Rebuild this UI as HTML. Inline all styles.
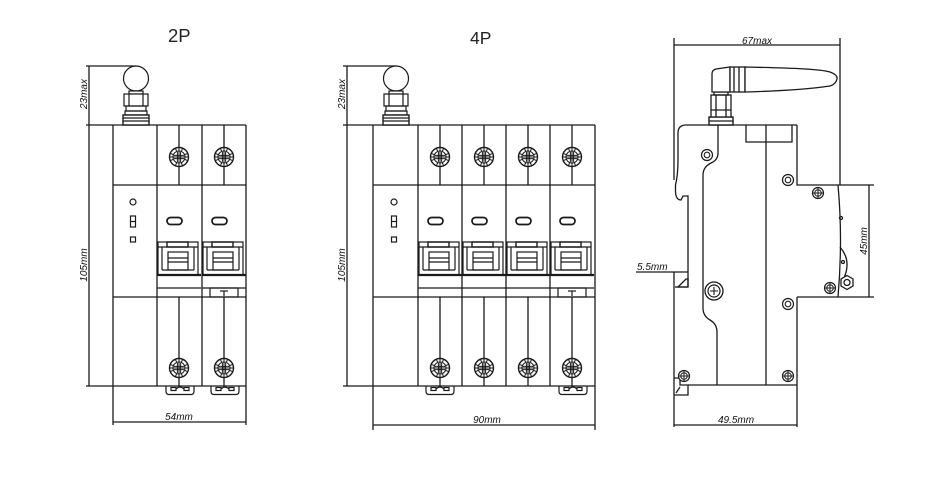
<!DOCTYPE html>
<html><head><meta charset="utf-8"><style>
html,body{margin:0;padding:0;background:#fff;}
svg{display:block;}
text{font-family:"Liberation Sans",sans-serif;fill:#222;}
.d{font-style:italic;font-size:10px;fill:#111;}
</style></head><body>
<svg width="946" height="490" viewBox="0 0 946 490" xmlns="http://www.w3.org/2000/svg">
<defs>
<g id="scr">
<circle r="9.5" fill="#fff" stroke="#1a1a1a" stroke-width="1.4"/>
<circle r="6" fill="none" stroke="#1a1a1a" stroke-width="1.1"/>
<path d="M5.54 2.3L8.78 3.64M2.3 5.54L3.64 8.78M-2.3 5.54L-3.64 8.78M-5.54 2.3L-8.78 3.64M-5.54 -2.3L-8.78 -3.64M-2.3 -5.54L-3.64 -8.78M2.3 -5.54L3.64 -8.78M5.54 -2.3L8.78 -3.64M-9.5 0H9.5M0 -9.5V9.5M-5 -1.6H5M-5 1.6H5M-1.6 -5V5M1.6 -5V5" stroke="#1a1a1a" stroke-width="1" fill="none"/>
</g>
<g id="lev" fill="none" stroke="#1a1a1a" stroke-width="1.2">
<rect x="1" y="0" width="40" height="33"/>
<rect x="10" y="0" width="21" height="5" stroke-width="1.4"/>
<line x1="1" y1="5" x2="41" y2="5"/>
<line x1="5" y1="5" x2="5" y2="28"/>
<line x1="37" y1="5" x2="37" y2="28"/>
<rect x="11" y="10" width="20" height="18"/>
<line x1="11" y1="16" x2="31" y2="16"/>
<line x1="11" y1="20" x2="31" y2="20"/>
<line x1="5" y1="28" x2="37" y2="28"/>
<line x1="0" y1="33" x2="44" y2="33" stroke-width="2.2"/>
<line x1="0" y1="46" x2="44" y2="46"/>
</g>
<g id="mod" fill="none" stroke="#1a1a1a" stroke-width="1.3">
<line x1="0" y1="125" x2="0" y2="386"/>
<line x1="22" y1="125" x2="22" y2="185"/>
<line x1="22" y1="297" x2="22" y2="386"/>
<use href="#scr" x="22" y="157"/>
<use href="#scr" x="22" y="368"/>
<rect x="10" y="217.5" width="15" height="7" rx="3.5" stroke-width="1.7"/>
<use href="#lev" y="242"/>
</g>
<g id="clip" fill="none" stroke="#1a1a1a" stroke-width="1.2">
<path d="M9 386V391Q9 394.5 12 394.5H34Q37 394.5 37 391V386"/>
<rect x="14" y="387.5" width="5" height="3"/>
<rect x="27" y="387.5" width="5" height="3"/>
<path d="M19 389Q23 385 27 389"/>
</g>
<g id="term" fill="none" stroke="#1a1a1a" stroke-width="1.2">
<rect x="8" y="288" width="28" height="9"/>
<line x1="18" y1="291" x2="26" y2="291"/>
<line x1="22" y1="291" x2="22" y2="296"/>
</g>
<g id="ant" fill="none" stroke="#1a1a1a" stroke-width="1.2">
<circle cx="0" cy="78.5" r="12.5" fill="#fff"/>
<rect x="-7" y="91" width="14" height="3" fill="#fff"/>
<rect x="-12" y="94" width="24" height="12" fill="#fff"/>
<line x1="-7" y1="94" x2="-7" y2="106"/>
<line x1="7" y1="94" x2="7" y2="106"/>
<rect x="-10" y="106" width="20" height="5"/>
<rect x="-11" y="111" width="22" height="4"/>
<rect x="-13" y="115" width="26" height="10" fill="#fff" stroke-width="1.4"/>
<line x1="-13" y1="118" x2="13" y2="118"/>
<line x1="-13" y1="121" x2="13" y2="121"/>
</g>
<g id="panel" fill="none" stroke="#1a1a1a" stroke-width="1.2">
<circle cx="0" cy="202" r="3"/>
<rect x="-2.5" y="216" width="5" height="11"/>
<line x1="-2.5" y1="221.5" x2="2.5" y2="221.5"/>
<rect x="-2.5" y="237" width="5" height="5"/>
</g>
<g id="xs"><circle r="5.5" fill="#fff" stroke="#1a1a1a" stroke-width="1.2"/><circle r="3.3" fill="none" stroke="#1a1a1a" stroke-width="1"/><path d="M-5 0H5M0 -5V5" stroke="#1a1a1a" stroke-width="1"/></g>
<g id="dc"><circle r="5.5" fill="#fff" stroke="#1a1a1a" stroke-width="1.2"/><circle r="2.8" fill="none" stroke="#1a1a1a" stroke-width="1.1"/></g>
</defs>

<!-- titles -->
<text x="168" y="42" font-size="18.5">2P</text>
<text x="470" y="44" font-size="17.5">4P</text>

<!-- ===== 2P ===== -->
<g fill="none" stroke="#1a1a1a" stroke-width="1.3">
<line x1="86" y1="125" x2="246" y2="125"/>
<line x1="113" y1="185" x2="246" y2="185"/>
<line x1="113" y1="297" x2="246" y2="297"/>
<line x1="86" y1="386" x2="246" y2="386"/>
<line x1="113" y1="125" x2="113" y2="425"/>
<line x1="246" y1="125" x2="246" y2="425"/>
<line x1="89" y1="66" x2="89" y2="386"/>
<line x1="86" y1="66" x2="136" y2="66"/>
<line x1="113" y1="422" x2="246" y2="422"/>
</g>
<use href="#mod" x="157"/>
<use href="#mod" x="202"/>
<use href="#clip" x="157"/>
<use href="#clip" x="202"/>
<use href="#term" x="202"/>
<use href="#panel" x="133"/>
<use href="#ant" x="136"/>
<text class="d" x="88" y="94" text-anchor="middle" font-size="11" transform="rotate(-90 88 94)" dy="-1">23max</text>
<text class="d" x="88" y="265" text-anchor="middle" font-size="12.5" transform="rotate(-90 88 265)" dy="-1">105mm</text>
<text class="d" x="179" y="420" text-anchor="middle">54mm</text>

<!-- ===== 4P ===== -->
<g fill="none" stroke="#1a1a1a" stroke-width="1.3">
<line x1="343" y1="125" x2="595" y2="125"/>
<line x1="373" y1="185" x2="595" y2="185"/>
<line x1="373" y1="297" x2="595" y2="297"/>
<line x1="343" y1="386" x2="595" y2="386"/>
<line x1="373" y1="125" x2="373" y2="430"/>
<line x1="595" y1="125" x2="595" y2="430"/>
<line x1="347" y1="66" x2="347" y2="386"/>
<line x1="343" y1="66" x2="396" y2="66"/>
<line x1="373" y1="425" x2="595" y2="425"/>
</g>
<use href="#mod" x="418"/>
<use href="#mod" x="462"/>
<use href="#mod" x="506"/>
<use href="#mod" x="550"/>
<use href="#clip" x="417"/>
<use href="#clip" x="550"/>
<use href="#term" x="550"/>
<use href="#panel" x="394"/>
<use href="#ant" x="396"/>
<text class="d" x="346" y="94" text-anchor="middle" font-size="11" transform="rotate(-90 346 94)" dy="-1">23max</text>
<text class="d" x="346" y="265" text-anchor="middle" font-size="12.5" transform="rotate(-90 346 265)" dy="-1">105mm</text>
<text class="d" x="487" y="423" text-anchor="middle">90mm</text>

<!-- ===== Side view ===== -->
<g fill="none" stroke="#1a1a1a" stroke-width="1.3">
<line x1="674" y1="45" x2="840" y2="45"/>
<line x1="674" y1="38" x2="674" y2="180"/>
<line x1="840" y1="38" x2="840" y2="185"/>
<path d="M797 125L686 125Q678 125 678 133L678 160Q678 175 675.5 185L675.5 192Q676 200 681 200L683 196L688 196L688 287"/>
<line x1="636" y1="272" x2="688" y2="272"/>
<line x1="674" y1="272" x2="674" y2="427"/>
<path d="M678 287L686 279L688 279L688 287Z"/>
<line x1="675" y1="287" x2="688" y2="287"/>
<path d="M797 125V185H874"/>
<path d="M838 185Q843 240 838 297"/>
<line x1="797" y1="297" x2="874" y2="297"/>
<line x1="797" y1="297" x2="797" y2="427"/>
<line x1="688" y1="385" x2="797" y2="385"/>
<path d="M674 378L680 378L680 385L688 385L688 395L674 395"/>
<path d="M676 393L680 387"/>
<path d="M718 125L718 153Q718 160 711 163Q703 167 703 175L703 308Q703 316 710 320Q717 324 717 332L717 385"/>
<line x1="766" y1="125" x2="766" y2="385"/>
<path d="M746 125L746 142L792 142L792 125"/>
<line x1="869" y1="185" x2="869" y2="297"/>
<line x1="674" y1="425" x2="797" y2="425"/>
<path d="M840 247Q853 262 842 282"/>
<circle cx="841" cy="218" r="1.5"/>
<circle cx="843" cy="262" r="1.5"/>
<path d="M847 275.5L853 279L853 286L847 289.5L841 286L841 279Z" fill="#fff"/>
<circle cx="847" cy="282.5" r="3"/>
<rect x="709" y="117" width="24" height="8" fill="#fff" stroke-width="1.4"/>
<line x1="709" y1="121" x2="733" y2="121"/>
<rect x="711" y="95" width="20" height="22" fill="#fff"/>
<line x1="716" y1="95" x2="716" y2="117"/>
<line x1="726" y1="95" x2="726" y2="117"/>
<line x1="711" y1="110" x2="731" y2="110"/>
<rect x="714" y="92" width="14" height="3"/>
<path d="M712 92L712 74Q712 70 716 69L730 67L730 92Z" fill="#fff"/>
<rect x="730" y="67" width="15" height="25" fill="#fff"/>
<line x1="734" y1="67" x2="734" y2="92"/>
<line x1="739" y1="67" x2="739" y2="92"/>
<path d="M745 67C790 68 820 69 830 72Q838 75 837 79Q836 84 830 86C810 89 780 91 745 92Z" fill="#fff"/>
</g>
<use href="#dc" x="707" y="155"/>
<use href="#dc" x="788" y="180"/>
<use href="#dc" x="788" y="304"/>
<g transform="translate(714 291)"><circle r="9" fill="#fff" stroke="#1a1a1a" stroke-width="1.3"/><circle r="6" fill="none" stroke="#1a1a1a" stroke-width="1.2"/><path d="M-4 0H4M0 -4V4" stroke="#1a1a1a" stroke-width="1.1"/></g>
<use href="#xs" x="818" y="193"/>
<use href="#xs" x="830" y="288"/>
<use href="#xs" x="684" y="376"/>
<use href="#xs" x="788" y="376"/>
<text class="d" x="757" y="44" text-anchor="middle">67max</text>
<text class="d" x="637" y="270">5.5mm</text>
<text class="d" x="736" y="423" text-anchor="middle" font-size="10.5">49.5mm</text>
<text class="d" x="867" y="241" text-anchor="middle" transform="rotate(-90 867 241)">45mm</text>
</svg>
</body></html>
